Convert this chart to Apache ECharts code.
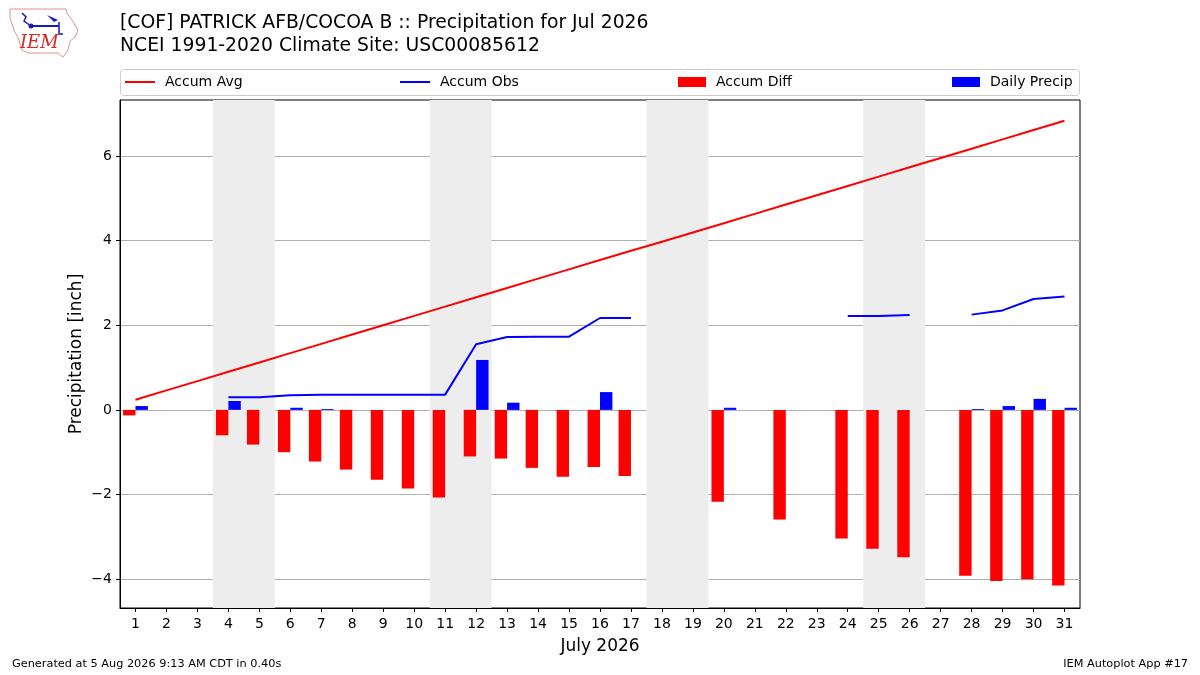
<!DOCTYPE html>
<html>
<head>
<meta charset="utf-8">
<script src="https://cdn.jsdelivr.net/npm/echarts@6/dist/echarts.min.js"></script>
<style>
html,body{margin:0;padding:0;background:#fff;}
#chart{width:1200px;height:675px;}
</style>
</head>
<body>
<div id="chart"></div>
<script>
// ---- data ----
const days = [1,2,3,4,5,6,7,8,9,10,11,12,13,14,15,16,17,18,19,20,21,22,23,24,25,26,27,28,29,30,31];
const accumAvg = [0.24,0.46,0.68,0.90,1.12,1.34,1.56,1.78,2.00,2.22,2.44,2.66,2.88,3.10,3.32,3.54,3.76,3.97,4.19,4.41,4.63,4.85,5.07,5.29,5.51,5.73,5.95,6.17,6.39,6.61,6.83];
const accumObs = [0.10,null,null,0.30,0.30,0.345,0.36,0.36,0.36,0.36,0.36,1.55,1.72,1.73,1.73,2.17,2.17,null,null,2.24,null,2.26,null,2.22,2.22,2.24,null,2.25,2.35,2.62,2.68];
const accumDiff = [-0.13,null,null,-0.60,-0.82,-1.00,-1.22,-1.41,-1.65,-1.86,-2.07,-1.10,-1.15,-1.37,-1.58,-1.35,-1.56,null,null,-2.17,null,-2.59,null,-3.04,-3.28,-3.48,null,-3.92,-4.04,-4.00,-4.15];
const dailyPrecip = [0.09,null,null,0.21,0,0.05,0.02,0,0,0,0,1.18,0.17,0,0,0.42,0,null,null,0.05,null,0,null,0,0,0,null,0.02,0.09,0.26,0.05];
const weekendBands = [[3.5,5.5],[10.5,12.5],[17.5,19.5],[24.5,26.5]];
const yTicks = [-4,-2,0,2,4,6];
const titleLine1 = '[COF] PATRICK AFB/COCOA B :: Precipitation for Jul 2026';
const titleLine2 = 'NCEI 1991-2020 Climate Site: USC00085612';

const FONT = 'DejaVu Sans';
const pairs = arr => days.map((d,i) => [d, arr[i]]);
const fmt = v => (v < 0 ? '\u2212' + Math.abs(v) : String(v));

const chart = echarts.init(document.getElementById('chart'), null, {renderer:'canvas'});

const legendBase = {
  top: 70, itemHeight: 10, itemWidth: 28, icon: 'rect',
  textStyle: {fontFamily: FONT, fontSize: 14, color: '#000', padding: [0,0,0,5]},
  selectedMode: false
};

chart.setOption({
  animation: false,
  backgroundColor: '#fff',
  textStyle: {fontFamily: FONT},
  grid: {left: 120, right: 120, top: 100, bottom: 67, show: true, borderColor: '#000', borderWidth: 1, backgroundColor: '#fff'},
  legend: [
    Object.assign({}, legendBase, {left: 120, data: ['Accum Avg'], itemHeight: 2, itemWidth: 30}),
    Object.assign({}, legendBase, {left: 395, data: ['Accum Obs'], itemHeight: 2, itemWidth: 30}),
    Object.assign({}, legendBase, {left: 673, data: ['Accum Diff']}),
    Object.assign({}, legendBase, {left: 947, data: ['Daily Precip']})
  ],
  graphic: [
    {type: 'rect', z: 0, shape: {x: 120.5, y: 69.5, width: 959, height: 26, r: 3}, style: {fill: '#fff', stroke: '#cccccc', lineWidth: 1}},
    {type: 'text', left: 120, top: 14, style: {text: titleLine1, font: '18.8px "DejaVu Sans"', fill: '#000'}},
    {type: 'text', left: 120, top: 37, style: {text: titleLine2, font: '18.8px "DejaVu Sans"', fill: '#000'}},
    {type: 'text', left: 12, top: 659, style: {text: 'Generated at 5 Aug 2026 9:13 AM CDT in 0.40s', font: '11.3px "DejaVu Sans"', fill: '#000'}},
    {type: 'text', right: 12, top: 659, style: {text: 'IEM Autoplot App #17', font: '11.3px "DejaVu Sans"', fill: '#000'}},
    {type: 'polygon', shape: {points: [[10,9],[66,9],[67,13],[72,20],[78,30],[75,37],[70,41],[68,50],[63,57],[58,53],[28,53],[22,50],[19,40],[14,30],[10,18]]}, style: {fill: '#fff', stroke: '#e98f8f', lineWidth: 1}},
    {type: 'polyline', shape: {points: [[31,26],[59,26]]}, style: {stroke: '#1a1ab8', lineWidth: 2}},
    {type: 'polyline', shape: {points: [[22,13],[26,17],[24,21],[31,26]]}, style: {stroke: '#1a1ab8', lineWidth: 1.5}},
    {type: 'polygon', shape: {points: [[47,15],[58,20],[54,22]]}, style: {fill: '#1a1ab8'}},
    {type: 'polyline', shape: {points: [[59,22],[59,34],[63,34]]}, style: {stroke: '#1a1ab8', lineWidth: 1.5}},
    {type: 'circle', shape: {cx: 31, cy: 26, r: 2.5}, style: {fill: '#1a1ab8'}},
    {type: 'text', left: 20, top: 34, style: {text: 'IEM', font: 'italic 18px "DejaVu Serif"', fill: '#d42a2a'}}
  ],
  xAxis: {
    type: 'value', min: 0.5, max: 31.5,
    name: 'July 2026', nameLocation: 'middle', nameGap: 30,
    nameTextStyle: {fontFamily: FONT, fontSize: 17, color: '#000'},
    axisLine: {show: true, onZero: false, lineStyle: {color: '#000', width: 1}},
    axisTick: {show: true, length: 4, customValues: days, lineStyle: {color: '#000'}},
    axisLabel: {customValues: days, margin: 9, fontFamily: FONT, fontSize: 14, color: '#000'},
    splitLine: {show: false}
  },
  yAxis: {
    type: 'value', min: -4.68, max: 7.32,
    name: 'Precipitation [inch]', nameLocation: 'middle', nameGap: 35, nameMoveOverlap: false,
    nameTextStyle: {fontFamily: FONT, fontSize: 17, color: '#000'},
    axisLine: {show: true, onZero: false, lineStyle: {color: '#000', width: 1}},
    axisTick: {show: true, length: 4, customValues: yTicks, lineStyle: {color: '#000'}},
    axisLabel: {customValues: yTicks, margin: 8, fontFamily: FONT, fontSize: 14, color: '#000', formatter: fmt},
    splitLine: {show: true, lineStyle: {color: '#b0b0b0', width: 1}}
  },
  series: [
    {
      name: 'Accum Avg', type: 'line', data: pairs(accumAvg), showSymbol: false, z: 3,
      lineStyle: {color: '#ff0000', width: 2}, itemStyle: {color: '#ff0000'}
    },
    {
      name: 'Accum Obs', type: 'line', data: pairs(accumObs), showSymbol: false, connectNulls: false, z: 3,
      lineStyle: {color: '#0000ff', width: 2}, itemStyle: {color: '#0000ff'}
    },
    {
      name: 'Accum Diff', type: 'bar', data: pairs(accumDiff), barWidth: 12.4, barGap: '0%', z: 2,
      itemStyle: {color: '#ff0000'},
      markArea: {
        silent: true, z: 1,
        itemStyle: {color: '#ededed'},
        data: weekendBands.map(b => [{xAxis: b[0]}, {xAxis: b[1]}])
      }
    },
    {
      name: 'Daily Precip', type: 'bar', data: pairs(dailyPrecip), barWidth: 12.4, barGap: '0%', z: 2,
      itemStyle: {color: '#0000ff'}
    }
  ]
});
</script>
</body>
</html>
